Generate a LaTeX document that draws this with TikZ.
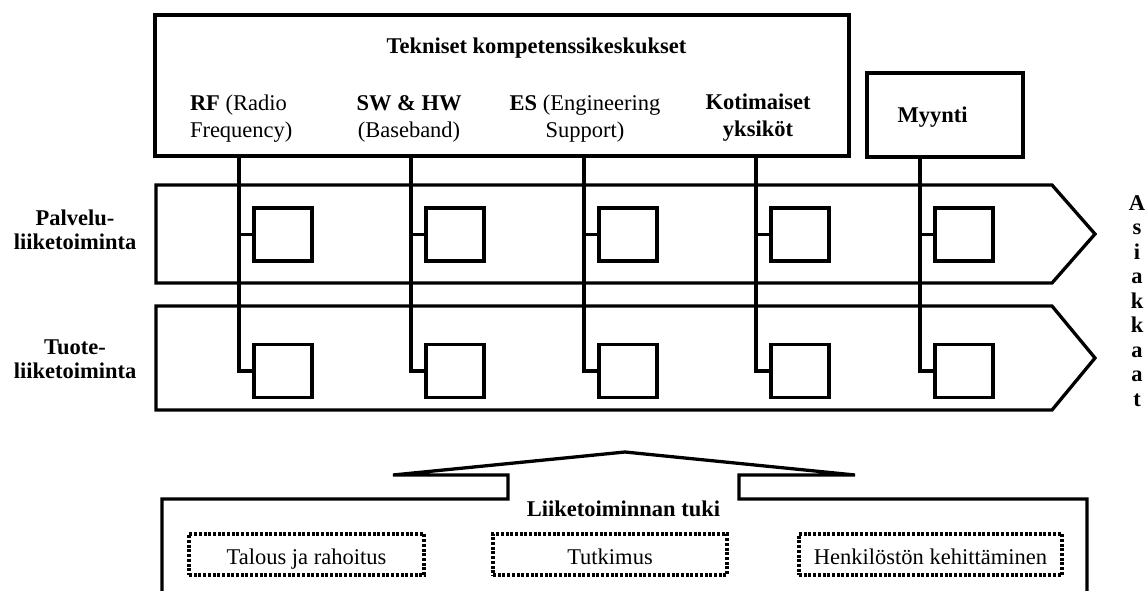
\documentclass[tikz,border=0pt]{standalone}
\usepackage{fontspec}
\setmainfont{Liberation Serif}
\newcommand\twol[3]{\begin{tabular}[t]{@{}#1@{}}#2\\#3\end{tabular}}
\begin{document}
\begin{tikzpicture}[x=1pt,y=-1pt,
  every node/.style={inner sep=0pt, outer sep=0pt},
  rm/.style={font=\fontsize{22.5}{27}\selectfont},
  bf/.style={font=\fontsize{22.5}{27}\selectfont\bfseries},
  frame/.style={draw, line width=3.3pt, line join=miter},
  sbox/.style={draw, line width=3.3pt, minimum width=58pt, minimum height=53pt},
  link/.style={line width=3.6pt},
  dotbox/.style={draw, line width=3.2pt, dash pattern=on 3pt off 1.7pt,
    minimum height=41pt, text height=20pt, text depth=0pt,
    font=\fontsize{22.5}{27}\selectfont},
]
\useasboundingbox (0,0) rectangle (1146,590);

% top boxes
\node[frame, anchor=north west, minimum width=694pt, minimum height=141pt] (tek) at (155,15) {};
\node[frame, anchor=north west, minimum width=156pt, minimum height=84pt] (myy) at (867,73) {};
\node[bf, anchor=base] (title) at (536.5,53) {Tekniset kompetenssikeskukset};
\node[bf, anchor=base] (myyt) at (932.5,122) {Myynti};

% column labels
\node[rm, anchor=base west] (rf) at (190,110) {\twol{l}{\textbf{RF} (Radio}{Frequency)}};
\node[rm, anchor=base] (sw) at (409,110) {\twol{c}{\textbf{SW \& HW}}{(Baseband)}};
\node[rm, anchor=base] (es) at (585,110) {\twol{c}{\textbf{ES} (Engineering}{Support)}};
\node[bf, anchor=base] (koti) at (758,109) {\twol{c}{Kotimaiset}{yksiköt}};

% bands
\draw[frame] (156,185) -- (1052,185) -- (1095,234) -- (1052,283) -- (156,283) -- cycle;
\draw[frame] (156,306) -- (1052,306) -- (1095,358) -- (1052,410) -- (156,410) -- cycle;

% left labels
\node[anchor=base, font=\fontsize{22.5}{24.5}\selectfont\bfseries] (palv) at (75,225) {\twol{c}{Palvelu-}{liiketoiminta}};
\node[anchor=base, font=\fontsize{22.5}{24}\selectfont\bfseries] (tuot) at (75,354) {\twol{c}{Tuote-}{liiketoiminta}};

% customers
\node[anchor=base, font=\fontsize{22.5}{24.5}\selectfont\bfseries] (asiak) at (1137,210)
  {\begin{tabular}[t]{@{}c@{}}A\\s\\i\\a\\k\\k\\a\\a\\t\end{tabular}};

% small boxes and links
\foreach \c/\i/\src in {239/1/tek,411/2/tek,584/3/tek,756/4/tek,920/5/myy} {
  \coordinate (col\i) at (\c,0);
  \node[sbox] (p\i) at (\c+44,234.5) {};
  \node[sbox] (t\i) at (\c+44,371) {};
  \draw[link] (\src.south -| col\i) |- (t\i.west);
  \draw[link] (p\i.west -| col\i) -- (p\i.west);
}

% business support
\draw[frame] (162,592) -- (162,499) -- (508,499) -- (508,475) -- (393,475) -- (625,452)
  -- (855,475) -- (739,475) -- (739,499) -- (1087,499) -- (1087,592);
\node[bf, anchor=base] (tuki) at (623.5,516) {Liiketoiminnan tuki};
\node[dotbox, minimum width=235pt] (talous) at (306.5,554.5) {Talous ja rahoitus};
\node[dotbox, minimum width=234pt] (tutk) at (610,554.5) {Tutkimus};
\node[dotbox, minimum width=263pt] (henk) at (930.5,554.5) {Henkilöstön kehittäminen};
\end{tikzpicture}
\end{document}
